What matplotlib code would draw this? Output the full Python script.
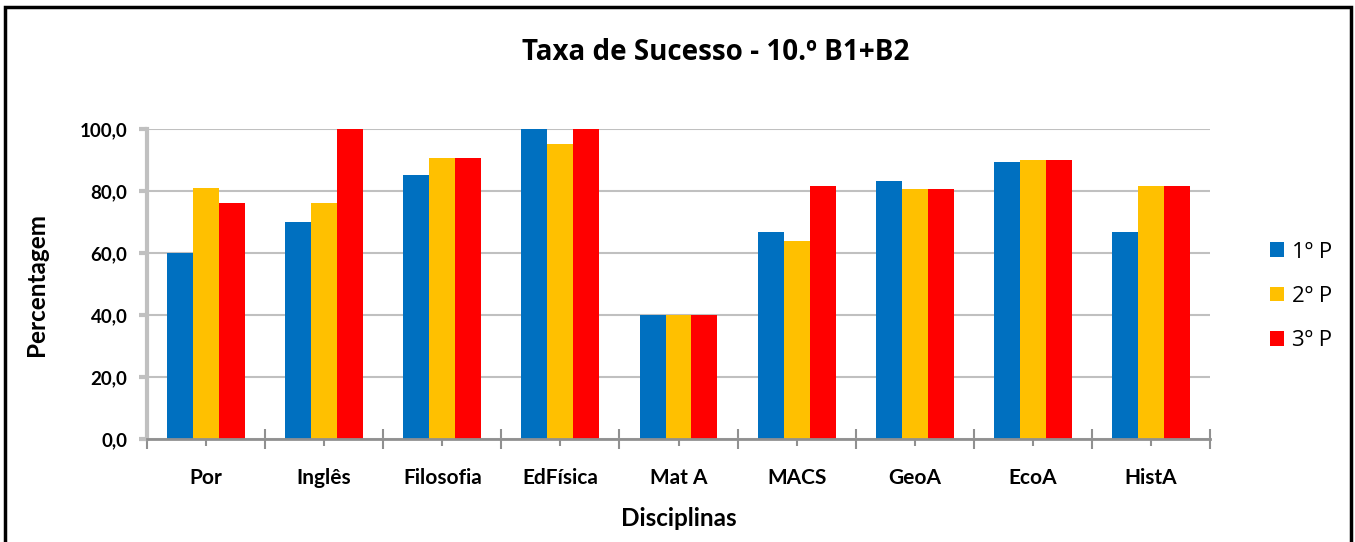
import numpy as np
import matplotlib.pyplot as plt
from matplotlib.patches import Rectangle

plt.rcParams['font.family'] = ['Lato', 'DejaVu Sans']

disciplinas = ["Por", "Inglês", "Filosofia", "EdFísica", "Mat A", "MACS", "GeoA", "EcoA", "HistA"]
periodo_1 = [60.0, 70.0, 85.2, 100.0, 40.0, 66.7, 83.3, 89.2, 66.7]
periodo_2 = [81.0, 76.2, 90.5, 95.2, 40.0, 63.8, 80.8, 90.0, 81.7]
periodo_3 = [76.2, 100.0, 90.5, 100.0, 40.0, 81.7, 80.8, 90.0, 81.7]
series = ["1º P", "2º P", "3º P"]
cores = ["#0070C0", "#FFC000", "#FF0000"]
yticks = [0, 20, 40, 60, 80, 100]

fig = plt.figure(figsize=(13.55, 5.42), dpi=100)
ax = fig.add_axes([147 / 1355, 1 - 439 / 542, (1210 - 147) / 1355, 310 / 542])

x = np.arange(len(disciplinas))
w = 0.22
for i, (vals, nome, cor) in enumerate(zip([periodo_1, periodo_2, periodo_3], series, cores)):
    ax.bar(x + (i - 1) * w, vals, width=w, color=cor, label=nome, zorder=3)

ax.set_xlim(-0.5, len(disciplinas) - 0.5)
ax.set_ylim(0, 100)
ax.set_yticks(yticks)
ax.set_yticklabels([f"{v:.1f}".replace(".", ",") for v in yticks],
                   fontsize=13.5, fontweight="bold")
ax.grid(axis="y", color="#c0c0c0", linewidth=1.5, zorder=0)

# category labels, with ticks at the boundaries and centres
ax.set_xticks(x)
ax.set_xticklabels(disciplinas, fontsize=15, fontweight="bold")
ax.set_xticks(np.arange(-0.5, len(disciplinas)), minor=True)
ax.tick_params(axis="x", which="major", direction="inout", length=10, width=1.5,
               color="#909090", pad=16)
ax.tick_params(axis="x", which="minor", direction="inout", length=14, width=1.5,
               color="#909090")
ax.tick_params(axis="y", direction="out", length=6, width=3, color="#c0c0c0", pad=8)

for s in ["top", "right"]:
    ax.spines[s].set_visible(False)
ax.spines["left"].set_color("#c0c0c0")
ax.spines["left"].set_linewidth(3)
ax.spines["bottom"].set_color("#909090")
ax.spines["bottom"].set_linewidth(2)
ax.spines["bottom"].set_zorder(4)

ax.set_ylabel("Percentagem", fontsize=17.5, fontweight="bold")
ax.set_xlabel("Disciplinas", fontsize=17.5, fontweight="bold")
ax.yaxis.set_label_coords(-0.1035, 0.5)
ax.xaxis.set_label_coords(0.5, -0.258)
ax.xaxis.label.set_va("center")
ax.yaxis.label.set_va("center")

fig.text(716 / 1355, 1 - 52 / 542, "Taxa de Sucesso - 10.º B1+B2",
         ha="center", va="center", fontsize=20, fontweight="bold",
         family=["Open Sans", "DejaVu Sans"])

leg = ax.legend(loc="center left", bbox_to_anchor=(1.038, 0.46), frameon=False,
                handlelength=0.63, handleheight=0.63, labelspacing=1.05,
                handletextpad=0.35, prop={"family": ["Open Sans", "DejaVu Sans"], "size": 16})

# outer frame of the chart area
fig.patches.append(Rectangle((5 / 1355, -0.1), 1346 / 1355, 1 - 7 / 542 + 0.1,
                             transform=fig.transFigure, fill=False,
                             edgecolor="black", linewidth=2.5))

fig.savefig("out.png", dpi=100)
